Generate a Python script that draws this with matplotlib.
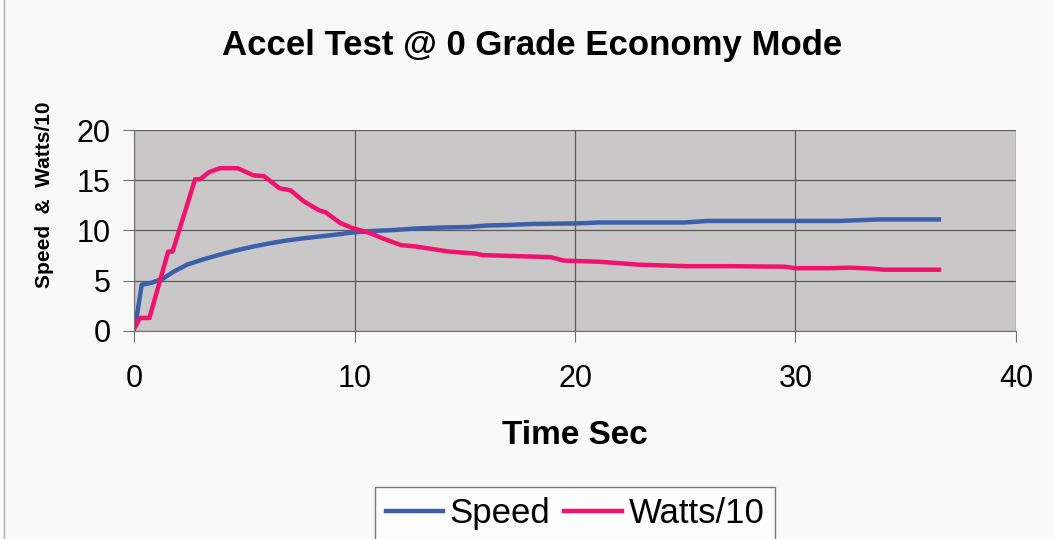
import matplotlib.pyplot as plt
from matplotlib.patches import Rectangle

plt.rcParams["font.family"] = ["Liberation Sans", "DejaVu Sans"]

# values
speed_t = [0.0, 0.1, 0.35, 0.8, 1.3, 1.8, 2.4, 3.1, 3.9, 4.6, 5.4, 6.1, 6.9, 7.6, 8.4,
           9.2, 9.9, 10.8, 11.8, 12.8, 14.0, 15.2, 16.0, 17.0, 18.0, 20.0, 21.1, 23.0,
           25.0, 26.0, 28.0, 30.0, 32.0, 33.8, 35.0, 36.5]
speed_v = [0.3, 1.1, 4.6, 4.8, 5.2, 5.9, 6.6, 7.1, 7.6, 8.0, 8.4, 8.7, 9.0, 9.2, 9.4,
           9.6, 9.8, 9.95, 10.05, 10.2, 10.3, 10.35, 10.5, 10.55, 10.65, 10.7, 10.8, 10.8,
           10.8, 10.95, 10.95, 10.95, 10.95, 11.1, 11.1, 11.1]

watts_t = [0.0, 0.27, 0.7, 1.55, 1.75, 2.77, 3.0, 3.4, 3.9, 4.7, 5.4, 5.9, 6.6, 7.1,
           7.7, 8.4, 8.7, 9.35, 9.9, 10.7, 11.3, 12.1, 12.8, 14.3, 15.5, 15.8, 18.9,
           19.5, 21.0, 22.0, 22.9, 25.0, 27.0, 29.5, 30.0, 31.5, 32.5, 33.5, 34.0, 36.5]
watts_v = [0.2, 1.3, 1.3, 7.9, 7.9, 15.1, 15.1, 15.8, 16.2, 16.2, 15.5, 15.4, 14.2, 14.0,
           12.9, 12.0, 11.8, 10.75, 10.25, 9.75, 9.2, 8.55, 8.4, 7.9, 7.7, 7.55, 7.35,
           7.0, 6.9, 6.75, 6.6, 6.45, 6.45, 6.4, 6.25, 6.25, 6.3, 6.2, 6.1, 6.1]

x_ticks = [0, 10, 20, 30, 40]
y_ticks = [0, 5, 10, 15, 20]

W, H = 1054, 539
fig = plt.figure(figsize=(W / 100, H / 100), dpi=100, facecolor="#f9f9f9")
fig.patches.append(Rectangle((0.004, -0.01), 1.0, 1.02, transform=fig.transFigure,
                             fill=False, edgecolor="#b0b0b0", linewidth=1.0))

ax = fig.add_axes([134 / W, 1 - 331 / H, (1016 - 134) / W, (331 - 130) / H])
ax.set_facecolor("#c9c7c7")
ax.plot(speed_t, speed_v, color="#3b5fab", linewidth=3.2, label="Speed")
ax.plot(watts_t, watts_v, color="#f0126c", linewidth=3.2, label="Watts/10")

ax.set_xlim(0, 40)
ax.set_ylim(0, 20)
ax.set_xticks(x_ticks)
ax.set_yticks(y_ticks)
ax.grid(True, color="#5a5a5a", linewidth=0.9)
ax.set_axisbelow(True)
for side in ["top", "right"]:
    ax.spines[side].set_visible(False)
for side in ["left", "bottom"]:
    ax.spines[side].set_color("#707070")
ax.tick_params(labelsize=22, length=8, color="#707070", direction="out")
ax.tick_params(axis="x", pad=16)
ax.tick_params(axis="y", pad=9)

fig.text(532 / W, 1 - 45 / H, "Accel Test @ 0 Grade Economy Mode",
         fontsize=25, fontweight="bold", ha="center", va="center")
ax.set_xlabel("Time Sec", fontsize=24, fontweight="bold")
ax.xaxis.set_label_coords(0.5, 1 - (420 - 130) / (331 - 130))
ax.set_ylabel("Speed  &  Watts/10", fontsize=15, fontweight="bold")
ax.yaxis.set_label_coords((54 - 134) / (1016 - 134), (331 - 195) / (331 - 130))

leg = ax.legend(loc="upper center", bbox_to_anchor=(0.5, -(487 - 331) / (331 - 130)),
                ncol=2, fontsize=25, frameon=True, fancybox=False, handlelength=1.65,
                handletextpad=0.2, columnspacing=0.4, borderpad=0.3, borderaxespad=0)
leg.get_frame().set_edgecolor("#555555")
leg.get_frame().set_facecolor("white")

fig.savefig("out.png", dpi=100, facecolor=fig.get_facecolor())
